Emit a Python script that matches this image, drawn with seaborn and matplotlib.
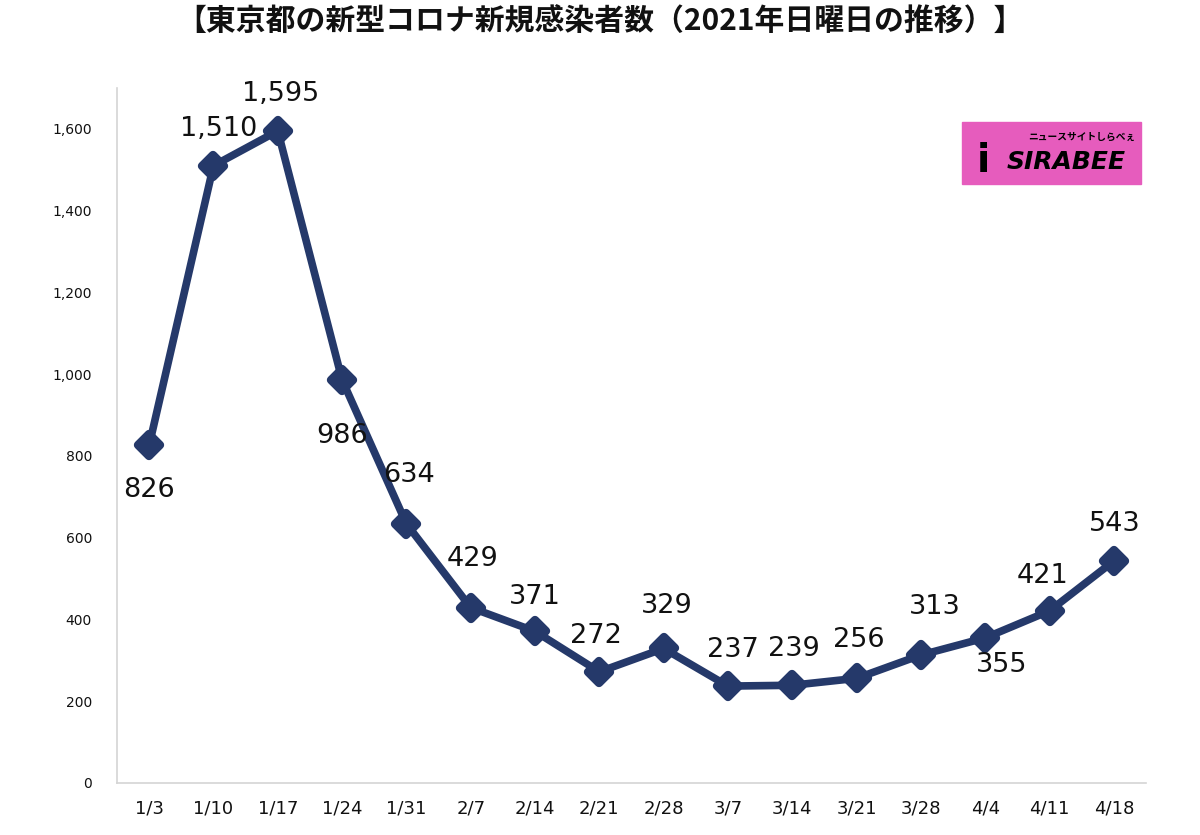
import matplotlib
matplotlib.use("Agg")
import matplotlib.pyplot as plt
import seaborn as sns
import pandas as pd
from matplotlib.patches import Rectangle
from matplotlib.markers import MarkerStyle

# ---- data ----
dates = ["1/3", "1/10", "1/17", "1/24", "1/31", "2/7", "2/14", "2/21",
         "2/28", "3/7", "3/14", "3/21", "3/28", "4/4", "4/11", "4/18"]
cases = [826, 1510, 1595, 986, 634, 429, 371, 272,
         329, 237, 239, 256, 313, 355, 421, 543]
yticks = [0, 200, 400, 600, 800, 1000, 1200, 1400, 1600]
title = "【東京都の新型コロナ新規感染者数（2021年日曜日の推移）】"

# label offsets (pixels, dy positive = downward) – layout only
label_offsets = [(0, 45), (5, -37), (3, -37), (0, 56), (3, -49), (2, -49),
                 (0, -34), (-3, -36), (3, -42), (5, -36), (2, -36), (2, -38),
                 (14, -48), (16, 27), (-7, -35), (1, -37)]

sns.set_theme(style="white")
plt.rcParams["font.family"] = ["Noto Sans CJK JP", "DejaVu Sans"]

fig = plt.figure(figsize=(12, 8.35), dpi=100)
ax = fig.add_axes([0.0975, 0.0623, 0.8575, 0.8323])

df = pd.DataFrame({"date": dates, "cases": cases})
navy = "#25396a"
mk = MarkerStyle("D", joinstyle="round")
sns.lineplot(data=df, x="date", y="cases", sort=False, ax=ax, color=navy,
             linewidth=5.5, marker=mk, markersize=11, markeredgewidth=6,
             markeredgecolor=navy, markerfacecolor=navy)
for l in ax.lines:
    l.set_solid_joinstyle("round")
    l.set_solid_capstyle("round")

ax.set_xlim(-0.5, len(dates) - 0.5)
ax.set_ylim(0, 1700)
ax.set_yticks(yticks)
ax.set_yticklabels([f"{v:,}" for v in yticks], fontsize=10, color="#111111",
                   family="DejaVu Sans")
ax.set_xticks(range(len(dates)))
ax.set_xticklabels(dates, fontsize=13, color="#111111", family="DejaVu Sans")
ax.set_xticks([i - 0.5 for i in range(len(dates) + 1)], minor=True)
ax.tick_params(axis="x", which="major", length=0, pad=12)
ax.tick_params(axis="x", which="minor", length=6, width=1, color="#d0d0d0",
               direction="out")
ax.tick_params(axis="y", length=0, pad=18)
ax.set_xlabel("")
ax.set_ylabel("")
for s in ["top", "right"]:
    ax.spines[s].set_visible(False)
for s in ["left", "bottom"]:
    ax.spines[s].set_color("#d4d4d4")
    ax.spines[s].set_linewidth(1.2)
ax.grid(False)

for i, (v, off) in enumerate(zip(cases, label_offsets)):
    ax.annotate(f"{v:,}", (i, v), xytext=(off[0], -off[1]),
                textcoords="offset pixels", ha="center", va="center",
                fontsize=19.5, color="#111111", family="DejaVu Sans")

fig.text(0.5, 0.9737, title, ha="center", va="center", fontsize=21.5,
         fontweight="bold", color="#111111")

# logo
fig.patches.append(Rectangle((0.8017, 0.7796), 0.1491, 0.0743,
                             transform=fig.transFigure, color="#e65cbd",
                             zorder=5))
fig.text(0.8195, 0.807, "i", ha="center", va="center", fontsize=28,
         fontweight="bold", color="black", zorder=6, family="DejaVu Sans")
fig.text(0.8885, 0.806, "SIRABEE", ha="center", va="center", fontsize=18,
         fontweight="bold", color="black", style="italic", zorder=6,
         family="DejaVu Sans")
fig.text(0.9015, 0.836, "ニュースサイトしらべぇ", ha="center", va="center",
         fontsize=7, fontweight="bold", color="black", zorder=6)

fig.savefig("out.png", dpi=100, facecolor="white")
